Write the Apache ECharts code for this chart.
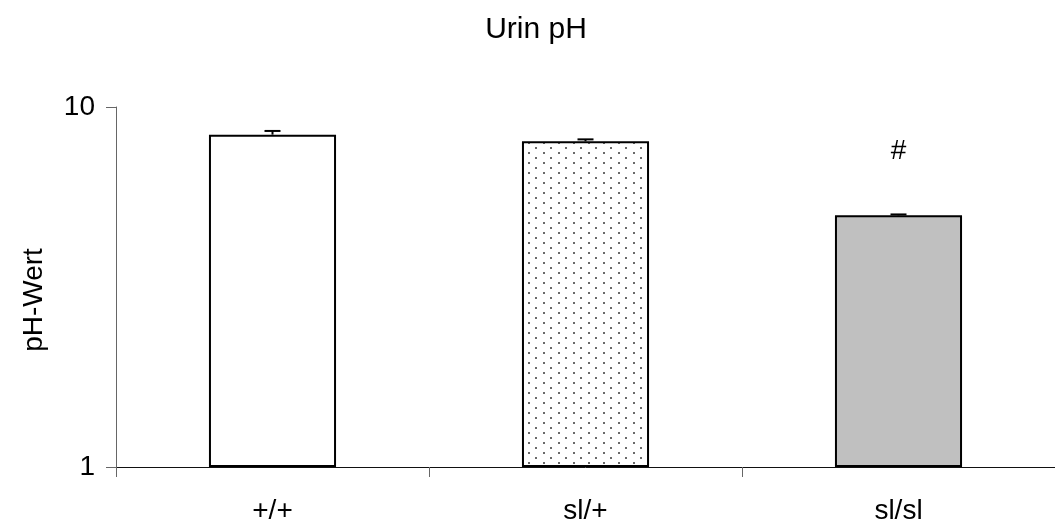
<!DOCTYPE html>
<html>
<head>
<meta charset="utf-8">
<script src="https://cdn.jsdelivr.net/npm/echarts@6/dist/echarts.min.js"></script>
<style>
  html, body { margin: 0; padding: 0; background: #fff; }
  #chart { width: 1055px; height: 526px; }
</style>
</head>
<body>
<div id="chart"></div>
<script>
// Urine pH by genotype (mean with upper error bar), log scale
const categories = ['+/+', 'sl/+', 'sl/sl'];
const meanValues = [8.38, 8.03, 5.0];
const errorValues = [0.2, 0.1, 0.03];
const annotations = ['', '', '#'];
const yTicks = [1, 10];

// stippled fill for the heterozygous bar
function dotPattern() {
  const c = document.createElement('canvas');
  c.width = 15; c.height = 10;
  const ctx = c.getContext('2d');
  ctx.fillStyle = '#ffffff';
  ctx.fillRect(0, 0, 15, 10);
  ctx.fillStyle = '#6a6a6a';
  ctx.fillRect(3, 2, 2, 2);
  ctx.fillRect(10, 7, 2, 2);
  return c;
}

const fills = ['#ffffff', { image: dotPattern(), repeat: 'repeat' }, '#c0c0c0'];
const font = '"Liberation Sans", Arial, sans-serif';

const chart = echarts.init(document.getElementById('chart'), null, { renderer: 'canvas' });

chart.setOption({
  animation: false,
  backgroundColor: '#ffffff',
  title: {
    text: 'Urin pH',
    left: 531,
    textAlign: 'center',
    top: 10,
    textStyle: { fontFamily: font, fontSize: 30, fontWeight: 'normal', color: '#000' }
  },
  grid: { left: 116, top: 107, width: 945, height: 360 },
  xAxis: {
    type: 'category',
    data: categories,
    boundaryGap: true,
    axisLine: { lineStyle: { color: '#111', width: 1 } },
    axisTick: { show: true, length: 10, inside: false, lineStyle: { color: '#666', width: 1 } },
    axisLabel: { fontFamily: font, fontSize: 28, color: '#000', margin: 30 },
    splitLine: { show: false }
  },
  yAxis: {
    type: 'log',
    logBase: 10,
    min: yTicks[0],
    max: yTicks[yTicks.length - 1],
    name: 'pH-Wert',
    nameLocation: 'middle',
    nameGap: 68,
    nameRotate: 90,
    nameTextStyle: { fontFamily: font, fontSize: 28, color: '#000', padding: [0, 26, 0, 0] },
    axisLine: { show: true, lineStyle: { color: '#666', width: 1 } },
    axisTick: { show: true, length: 10, inside: false, lineStyle: { color: '#666', width: 1 } },
    axisLabel: { fontFamily: font, fontSize: 28, color: '#000', margin: 21 },
    splitLine: { show: false },
    minorTick: { show: false }
  },
  series: [
    {
      type: 'bar',
      barWidth: '40.6%',
      data: meanValues.map((v, i) => ({
        value: v,
        itemStyle: { color: fills[i] },
        label: {
          show: annotations[i] !== '',
          formatter: annotations[i],
          position: 'top',
          distance: 50,
          fontFamily: font,
          fontSize: 28,
          color: '#000'
        }
      })),
      itemStyle: { borderColor: '#000', borderWidth: 2 },
      z: 2
    },
    {
      type: 'custom',
      data: meanValues.map((v, i) => [i, v, errorValues[i]]),
      renderItem: function (params, api) {
        const idx = api.value(0);
        const mean = api.value(1);
        const err = api.value(2);
        const base = api.coord([idx, mean]);
        const top = api.coord([idx, mean + err]);
        const half = 8;
        const style = { stroke: '#000', lineWidth: 2 };
        return {
          type: 'group',
          children: [
            { type: 'line', shape: { x1: base[0], y1: base[1], x2: top[0], y2: top[1] }, style: style },
            { type: 'line', shape: { x1: top[0] - half, y1: top[1], x2: top[0] + half, y2: top[1] }, style: style }
          ]
        };
      },
      z: 3
    }
  ]
});
</script>
</body>
</html>
